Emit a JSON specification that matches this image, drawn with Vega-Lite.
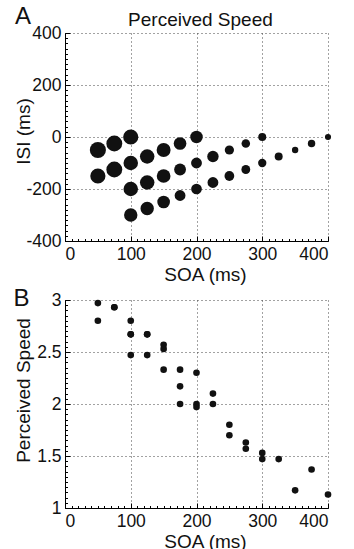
{
  "$schema": "https://vega.github.io/schema/vega-lite/v6.json",
  "background": "white",
  "padding": {"left": 13, "top": 4, "right": 5, "bottom": 5},
  "datasets": {
    "pts": [
      {"SOA": 50, "ISI": -50, "speed": 2.97},
      {"SOA": 50, "ISI": -150, "speed": 2.80},
      {"SOA": 75, "ISI": -25, "speed": 2.93},
      {"SOA": 75, "ISI": -125, "speed": 2.93},
      {"SOA": 100, "ISI": 0, "speed": 2.80},
      {"SOA": 100, "ISI": -100, "speed": 2.67},
      {"SOA": 100, "ISI": -200, "speed": 2.67},
      {"SOA": 100, "ISI": -300, "speed": 2.47},
      {"SOA": 125, "ISI": -75, "speed": 2.67},
      {"SOA": 125, "ISI": -175, "speed": 2.67},
      {"SOA": 125, "ISI": -275, "speed": 2.47},
      {"SOA": 150, "ISI": -50, "speed": 2.57},
      {"SOA": 150, "ISI": -150, "speed": 2.53},
      {"SOA": 150, "ISI": -250, "speed": 2.33},
      {"SOA": 175, "ISI": -25, "speed": 2.33},
      {"SOA": 175, "ISI": -125, "speed": 2.17},
      {"SOA": 175, "ISI": -225, "speed": 2.00},
      {"SOA": 200, "ISI": 0, "speed": 2.30},
      {"SOA": 200, "ISI": -100, "speed": 2.00},
      {"SOA": 200, "ISI": -200, "speed": 1.97},
      {"SOA": 225, "ISI": -75, "speed": 2.10},
      {"SOA": 225, "ISI": -175, "speed": 2.00},
      {"SOA": 250, "ISI": -50, "speed": 1.70},
      {"SOA": 250, "ISI": -150, "speed": 1.80},
      {"SOA": 275, "ISI": -25, "speed": 1.57},
      {"SOA": 275, "ISI": -125, "speed": 1.63},
      {"SOA": 300, "ISI": 0, "speed": 1.47},
      {"SOA": 300, "ISI": -100, "speed": 1.53},
      {"SOA": 325, "ISI": -75, "speed": 1.47},
      {"SOA": 350, "ISI": -50, "speed": 1.17},
      {"SOA": 375, "ISI": -25, "speed": 1.37},
      {"SOA": 400, "ISI": 0, "speed": 1.13}
    ]
  },
  "config": {
    "font": "Liberation Sans",
    "view": {"stroke": null},
    "axis": {
      "domainColor": "#000",
      "domainWidth": 1,
      "tickColor": "#000",
      "tickSize": -5,
      "labelColor": "#111",
      "titleColor": "#111",
      "labelFontSize": 17.5,
      "titleFontSize": 19,
      "titleFontWeight": "normal",
      "gridColor": "#444",
      "gridDash": [1, 3],
      "gridOpacity": 1,
      "labelPadding": 9
    },
    "text": {"font": "Liberation Sans", "fontWeight": "normal"},
    "concat": {"spacing": 1}
  },
  "vconcat": [
    {
      "width": 263,
      "height": 208,
      "layer": [
        {
          "data": {"name": "pts"},
          "mark": {"type": "circle", "color": "#111", "opacity": 1},
          "encoding": {
            "x": {"field": "SOA", "type": "quantitative", "scale": {"domain": [0, 400]},
                  "axis": {"values": [0, 100, 200, 300, 400], "title": "SOA (ms)", "titleX": 140, "titlePadding": 3, "orient": "bottom"}},
            "y": {"field": "ISI", "type": "quantitative", "scale": {"domain": [-400, 400]},
                  "axis": {"values": [-400, -200, 0, 200, 400], "title": "ISI (ms)", "labelExpr": "datum.value + ''", "titlePadding": -8, "titleY": 98, "orient": "left"}},
            "size": {"field": "speed", "type": "quantitative", "scale": {"type": "pow", "exponent": 2, "domain": [0, 3], "range": [0, 265]}, "legend": null}
          }
        },
        {
          "data": {"name": "pts"},
          "mark": {"type": "point", "opacity": 0},
          "encoding": {
            "x": {"field": "SOA", "type": "quantitative",
                  "axis": {"values": [0,10,20,30,40,50,60,70,80,90,100,110,120,130,140,150,160,170,180,190,200,210,220,230,240,250,260,270,280,290,300,310,320,330,340,350,360,370,380,390,400], "labels": false, "domain": false, "grid": false, "tickSize": -2.5, "title": null, "orient": "bottom"}},
            "y": {"field": "ISI", "type": "quantitative",
                  "axis": {"values": [-400,-380,-360,-340,-320,-300,-280,-260,-240,-220,-200,-180,-160,-140,-120,-100,-80,-60,-40,-20,0,20,40,60,80,100,120,140,160,180,200,220,240,260,280,300,320,340,360,380,400], "labels": false, "domain": false, "grid": false, "tickSize": -2.5, "title": null, "orient": "left"}}
          }
        },
        {
          "data": {"values": [{"label": "A"}]},
          "mark": {"type": "text", "fontSize": 24, "color": "#111", "baseline": "middle", "align": "center"},
          "encoding": {
            "x": {"datum": -64, "type": "quantitative", "axis": null},
            "y": {"datum": 463, "type": "quantitative", "axis": null},
            "text": {"field": "label"}
          }
        },
        {
          "data": {"values": [{"label": "Perceived Speed"}]},
          "mark": {"type": "text", "fontSize": 19, "color": "#111", "baseline": "middle", "align": "center"},
          "encoding": {
            "x": {"datum": 206, "type": "quantitative", "axis": null},
            "y": {"datum": 450, "type": "quantitative", "axis": null},
            "text": {"field": "label"}
          }
        }
      ],
      "resolve": {"axis": {"x": "independent", "y": "independent"}}
    },
    {
      "width": 263,
      "height": 208,
      "layer": [
        {
          "data": {"name": "pts"},
          "mark": {"type": "circle", "color": "#111", "opacity": 1, "size": 44},
          "encoding": {
            "x": {"field": "SOA", "type": "quantitative", "scale": {"domain": [0, 400]},
                  "axis": {"values": [0, 100, 200, 300, 400], "title": "SOA (ms)", "titleX": 140, "titlePadding": 3, "orient": "bottom"}},
            "y": {"field": "speed", "type": "quantitative", "scale": {"domain": [1, 3]},
                  "axis": {"values": [1, 1.5, 2, 2.5, 3], "format": "~g", "title": "Perceived Speed", "titlePadding": 3, "titleY": 90, "orient": "left"}}
          }
        },
        {
          "data": {"name": "pts"},
          "mark": {"type": "point", "opacity": 0},
          "encoding": {
            "x": {"field": "SOA", "type": "quantitative",
                  "axis": {"values": [0,10,20,30,40,50,60,70,80,90,100,110,120,130,140,150,160,170,180,190,200,210,220,230,240,250,260,270,280,290,300,310,320,330,340,350,360,370,380,390,400], "labels": false, "domain": false, "grid": false, "tickSize": -2.5, "title": null, "orient": "bottom"}},
            "y": {"field": "speed", "type": "quantitative",
                  "axis": {"values": [1,1.05,1.1,1.15,1.2,1.25,1.3,1.35,1.4,1.45,1.5,1.55,1.6,1.65,1.7,1.75,1.8,1.85,1.9,1.95,2,2.05,2.1,2.15,2.2,2.25,2.3,2.35,2.4,2.45,2.5,2.55,2.6,2.65,2.7,2.75,2.8,2.85,2.9,2.95,3], "labels": false, "domain": false, "grid": false, "tickSize": -2.5, "title": null, "orient": "left"}}
          }
        },
        {
          "data": {"values": [{"label": "B"}]},
          "mark": {"type": "text", "fontSize": 24, "color": "#111", "baseline": "middle", "align": "center"},
          "encoding": {
            "x": {"datum": -66, "type": "quantitative", "axis": null},
            "y": {"datum": 3.014, "type": "quantitative", "axis": null},
            "text": {"field": "label"}
          }
        }
      ],
      "resolve": {"axis": {"x": "independent", "y": "independent"}}
    }
  ]
}
